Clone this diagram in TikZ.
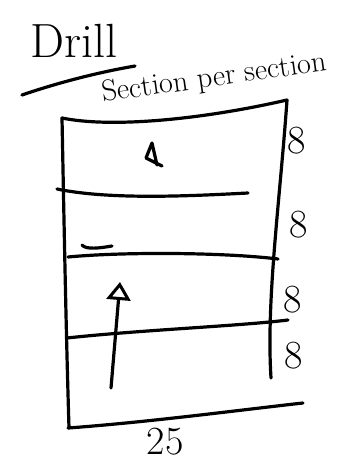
\documentclass[tikz,border=0pt]{standalone}
\usetikzlibrary{arrows.meta,positioning}
\begin{document}
\begin{tikzpicture}[
  x=1pt, y=-1pt,
  pen/.style={line width=3.2pt, line cap=round, line join=round},
  hand/.style={inner sep=0pt, font=\fontsize{48}{48}\selectfont},
  depth/.style={inner sep=0pt, font=\fontsize{40}{40}\selectfont}
]
  \useasboundingbox (0,0) rectangle (358,473);

  % Titre
  \node[hand, anchor=base west] (drill) at (30,58) {Drill};
  \coordinate (ul1) at (22,95);
  \coordinate (ul2) at (135,66);
  \draw[pen] (ul1) .. controls (60,82) and (100,72) .. (ul2);
  \node[inner sep=0pt, font=\fontsize{30}{30}\selectfont, rotate=8, anchor=base west]
    (persec) at (103,102) {Section per section};

  % Contour du trou
  \coordinate (tl) at (62,118);
  \coordinate (tr) at (287,100);
  \coordinate (bl) at (69,428);
  \coordinate (br) at (271,378);
  \draw[pen] (tl) .. controls (110,128) and (200,120) .. (tr);
  \draw[pen] (tl) .. controls (64,220) and (66,330) .. (bl);
  \draw[pen] (tr) .. controls (280,200) and (266,300) .. (br);

  % Sections
  \coordinate (s1a) at (57,189);
  \coordinate (s1b) at (248,193);
  \coordinate (s2a) at (68,257);
  \coordinate (s2b) at (278,259);
  \coordinate (s3a) at (67,338);
  \coordinate (s3b) at (288,320);
  \coordinate (boa) at (68,428);
  \coordinate (bob) at (303,403);
  \draw[pen] (s1a) .. controls (110,200) and (190,196) .. (s1b);
  \draw[pen] (s2a) .. controls (120,252) and (220,252) .. (s2b);
  \draw[pen] (s3a) .. controls (140,330) and (240,326) .. (s3b);
  \draw[pen] (boa) .. controls (150,422) and (240,410) .. (bob);
  \coordinate (m1) at (82,245);
  \coordinate (m2) at (112,246);
  \draw[pen] (m1) .. controls (86,250) and (100,248) .. (m2);

  % Marque de la meche
  \coordinate (d1) at (152,143);
  \coordinate (d2) at (162,166);
  \draw[pen] (d1) -- (146,158) -- (d2) (d1) -- (157,165);

  % Avance
  \coordinate (av0) at (111,388);
  \coordinate (av1) at (120,282);
  \draw[pen, -{Triangle[open, length=18pt, width=24pt, line width=3pt]}] (av0) -- (av1);

  % Profondeurs
  \node[depth] (p1) at (297,141) {8};
  \node[depth] (p2) at (299,225) {8};
  \node[depth] (p3) at (293,300) {8};
  \node[depth] (p4) at (294,356) {8};

  % Largeur
  \node[depth] (larg) at (165,442) {25};
\end{tikzpicture}
\end{document}
